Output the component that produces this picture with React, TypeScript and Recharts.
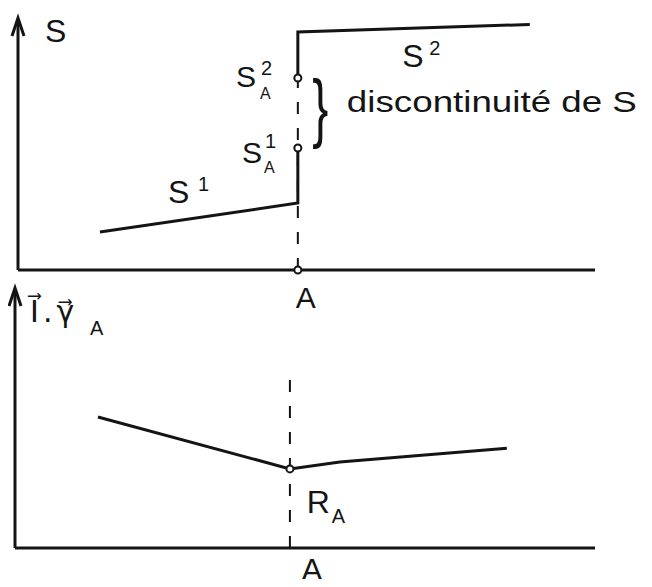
import { ComposedChart, Line, XAxis, YAxis, ReferenceLine, ReferenceDot } from 'recharts'

// ── data (both panels use a 0..100 abscissa / ordinate) ──────────────────────

// top panel: S, jump at point A
const A_TOP = 48.5
const s1X = [14.2, A_TOP, A_TOP]
const s1Y = [15.3, 27, 49.2]
const s2X = [A_TOP, A_TOP, 88.7]
const s2Y = [77.4, 96, 99]
const SA1 = 49.2 // S¹_A
const SA2 = 77.4 // S²_A

// bottom panel: I.γ_A, kink at A
const A_BOT = 47.4
const rX = [14.3, A_BOT, 56, 84.8]
const rY = [51.2, 30.9, 33.6, 39]
const RA = 30.9

const tickLabels = ['A']

const INK = '#141414'
const FONT = '"Liberation Sans", "DejaVu Sans", sans-serif'

const zip = (xs: number[], ys: number[]) => xs.map((x, i) => ({ x, y: ys[i] }))

type Part = { t: string; dx: number; dy: number; size: number; family?: string; spacing?: number }

const glyphs = (parts: Part[]) => (p: any) => (
  <g>
    {parts.map((q, i) => (
      <text
        key={i}
        x={p.cx + q.dx}
        y={p.cy + q.dy}
        fontSize={q.size}
        fontFamily={q.family ?? FONT}
        letterSpacing={q.spacing ?? 0}
        fill={INK}
      >
        {q.t}
      </text>
    ))}
  </g>
)

const arrowHead = (p: any) => (
  <path
    d={`M${p.cx - 6},${p.cy + 14} L${p.cx},${p.cy - 4} L${p.cx + 6},${p.cy + 14}`}
    fill="none"
    stroke={INK}
    strokeWidth={3}
  />
)

const openDot = (p: any) => <circle cx={p.cx} cy={p.cy} r={3.5} fill="#fff" stroke={INK} strokeWidth={2} />

const brace = (p: any) => (
  <text
    transform={`translate(${p.cx},${p.cy}) scale(1,1.6)`}
    x={0}
    y={12}
    fontSize={48}
    fontFamily={FONT}
    fill={INK}
  >
    {'}'}
  </text>
)

const makeTick = (size: number, shift: number) => (p: any) => (
  <text x={p.x + shift} y={p.y} dy="0.71em" textAnchor="middle" fontSize={size} fontFamily={FONT} fill={INK}>
    {tickLabels[0]}
  </text>
)

const axisStyle = { stroke: INK, strokeWidth: 3 }

function TopPanel() {
  return (
    <ComposedChart width={636} height={312} margin={{ top: 14, right: 49, bottom: 20, left: 10 }}>
      <XAxis
        dataKey="x"
        type="number"
        domain={[0, 100]}
        ticks={[A_TOP]}
        tick={makeTick(30, 8)}
        tickLine={false}
        tickMargin={11}
        axisLine={axisStyle}
        height={30}
      />
      <YAxis type="number" domain={[0, 100]} tick={false} tickLine={false} axisLine={false} width={0} />
      <ReferenceLine segment={[{ x: 0, y: 0 }, { x: 0, y: 100 }]} stroke={INK} strokeWidth={3} />
      <ReferenceLine segment={[{ x: A_TOP, y: 0 }, { x: A_TOP, y: SA2 }]} stroke={INK} strokeWidth={2} strokeDasharray="12 14" />
      <Line data={zip(s1X, s1Y)} dataKey="y" type="linear" stroke={INK} strokeWidth={3} dot={false} isAnimationActive={false} />
      <Line data={zip(s2X, s2Y)} dataKey="y" type="linear" stroke={INK} strokeWidth={3} dot={false} isAnimationActive={false} />
      <ReferenceDot x={0} y={100} r={0} shape={arrowHead} />
      <ReferenceDot x={A_TOP} y={SA1} r={3} shape={openDot} />
      <ReferenceDot x={A_TOP} y={SA2} r={3} shape={openDot} />
      <ReferenceDot x={A_TOP} y={0} r={3} shape={openDot} />
      <ReferenceDot x={4.7} y={92} r={0} shape={glyphs([{ t: 'S', dx: 0, dy: 0, size: 32 }])} />
      <ReferenceDot
        x={37.8}
        y={73.8}
        r={0}
        shape={glyphs([
          { t: 'S', dx: 0, dy: 0, size: 30 },
          { t: '2', dx: 25, dy: -12, size: 20 },
          { t: 'A', dx: 24, dy: 12, size: 16 },
        ])}
      />
      <ReferenceDot
        x={38.8}
        y={43.1}
        r={0}
        shape={glyphs([
          { t: 'S', dx: 0, dy: 0, size: 30 },
          { t: '1', dx: 23, dy: -15, size: 20 },
          { t: 'A', dx: 22, dy: 10, size: 16 },
        ])}
      />
      <ReferenceDot
        x={26}
        y={27}
        r={0}
        shape={glyphs([
          { t: 'S', dx: 0, dy: 0, size: 32 },
          { t: '1', dx: 30, dy: -12, size: 20 },
        ])}
      />
      <ReferenceDot
        x={66.6}
        y={81.9}
        r={0}
        shape={glyphs([
          { t: 'S', dx: 0, dy: 0, size: 32 },
          { t: '2', dx: 27, dy: -12, size: 20 },
        ])}
      />
      <ReferenceDot x={51} y={62.9} r={0} shape={brace} />
      <ReferenceDot
        x={57}
        y={63.7}
        r={0}
        shape={(p: any) => (
          <text x={p.cx} y={p.cy} fontSize={30} fontFamily={FONT} fill={INK} textLength={290} lengthAdjust="spacingAndGlyphs">
            discontinuité de S
          </text>
        )}
      />
    </ComposedChart>
  )
}

function BottomPanel() {
  return (
    <ComposedChart width={636} height={307} margin={{ top: 12, right: 49, bottom: 9, left: 7 }}>
      <XAxis
        dataKey="x"
        type="number"
        domain={[0, 100]}
        ticks={[A_BOT]}
        tick={makeTick(32, 22)}
        tickLine={false}
        tickMargin={4}
        axisLine={axisStyle}
        height={30}
      />
      <YAxis type="number" domain={[0, 100]} tick={false} tickLine={false} axisLine={false} width={0} />
      <ReferenceLine segment={[{ x: 0, y: 0 }, { x: 0, y: 100 }]} stroke={INK} strokeWidth={3} />
      <ReferenceLine segment={[{ x: A_BOT, y: 0 }, { x: A_BOT, y: 66.8 }]} stroke={INK} strokeWidth={2} strokeDasharray="12 14" />
      <Line data={zip(rX, rY)} dataKey="y" type="linear" stroke={INK} strokeWidth={3} dot={false} isAnimationActive={false} />
      <ReferenceDot x={0} y={100} r={0} shape={arrowHead} />
      <ReferenceDot x={A_BOT} y={RA} r={3} shape={openDot} />
      <ReferenceDot
        x={2.6}
        y={88.3}
        r={0}
        shape={glyphs([
          { t: 'I\u20D7.\u03B3\u20D7', dx: 0, dy: 0, size: 30, family: '"DejaVu Sans", sans-serif', spacing: 4 },
          { t: 'A', dx: 60, dy: 13, size: 20 },
        ])}
      />
      <ReferenceDot
        x={50.3}
        y={13.7}
        r={0}
        shape={glyphs([
          { t: 'R', dx: 0, dy: 0, size: 32 },
          { t: 'A', dx: 25, dy: 10, size: 20 },
        ])}
      />
    </ComposedChart>
  )
}

export default function App() {
  return (
    <div style={{ position: 'relative', width: 636, height: 571, background: '#fff' }}>
      <div style={{ position: 'absolute', left: 0, top: 0 }}>
        <TopPanel />
      </div>
      <div style={{ position: 'absolute', left: 0, top: 272 }}>
        <BottomPanel />
      </div>
    </div>
  )
}
